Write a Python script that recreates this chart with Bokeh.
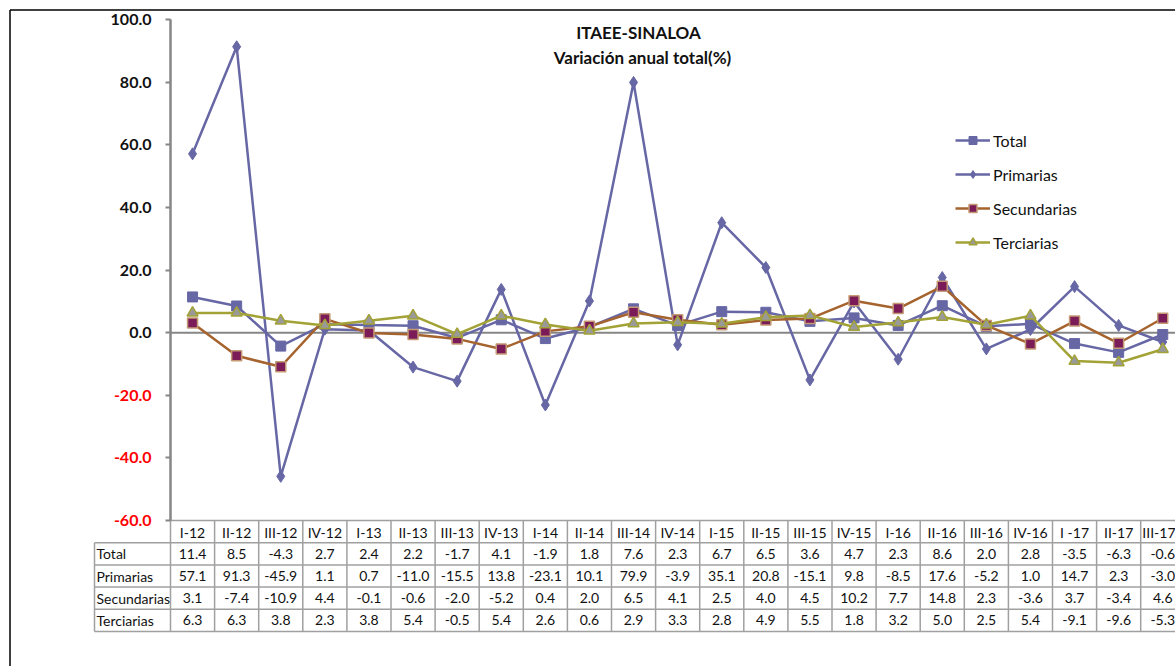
from bokeh.plotting import figure
from bokeh.models import (Range1d, LinearAxis, FixedTicker, PrintfTickFormatter,
                          Legend, LegendItem, ColumnDataSource, Label)
from bokeh.core.properties import value
from bokeh.embed import file_html
from bokeh.resources import INLINE

# ---------------- data ----------------
categories = ["I-12", "II-12", "III-12", "IV-12", "I-13", "II-13", "III-13", "IV-13",
              "I-14", "II-14", "III-14", "IV-14", "I-15", "II-15", "III-15", "IV-15",
              "I-16", "II-16", "III-16", "IV-16", "I -17", "II-17", "III-17"]
total = [11.4, 8.5, -4.3, 2.7, 2.4, 2.2, -1.7, 4.1, -1.9, 1.8, 7.6, 2.3, 6.7, 6.5,
         3.6, 4.7, 2.3, 8.6, 2.0, 2.8, -3.5, -6.3, -0.6]
primarias = [57.1, 91.3, -45.9, 1.1, 0.7, -11.0, -15.5, 13.8, -23.1, 10.1, 79.9, -3.9,
             35.1, 20.8, -15.1, 9.8, -8.5, 17.6, -5.2, 1.0, 14.7, 2.3, -3.0]
secundarias = [3.1, -7.4, -10.9, 4.4, -0.1, -0.6, -2.0, -5.2, 0.4, 2.0, 6.5, 4.1, 2.5,
               4.0, 4.5, 10.2, 7.7, 14.8, 2.3, -3.6, 3.7, -3.4, 4.6]
terciarias = [6.3, 6.3, 3.8, 2.3, 3.8, 5.4, -0.5, 5.4, 2.6, 0.6, 2.9, 3.3, 2.8, 4.9,
              5.5, 1.8, 3.2, 5.0, 2.5, 5.4, -9.1, -9.6, -5.3]
series_names = ["Total", "Primarias", "Secundarias", "Terciarias"]
y_ticks_black = [0, 20, 40, 60, 80, 100]
y_ticks_red = [-60, -40, -20]
title_lines = ["ITAEE-SINALOA", "Variación anual total(%)"]

# ---------------- geometry ----------------
W, H = 1175, 666
X0_PX = 170.0            # canvas x of first category boundary
PX_PER_CAT = 44.1
Y100_PX = 19.0           # canvas y of value 100
PX_PER_UNIT = 501.0 / 160.0

def dx(px):
    return px / PX_PER_CAT

def dy(px):
    return px / PX_PER_UNIT

x_start = -dx(X0_PX)
x_end = dx(W - X0_PX)
y_end = 100 + dy(Y100_PX)
y_start = 100 - dy(H - Y100_PX)

FONT = "Lato"
C_TOT = "#6767A5"
C_SEC = "#A5632E"
C_TER = "#A2A236"
C_AX = "#868686"
C_GRID = "#A0A0A0"
C_TXT = "#111111"

p = figure(width=W, height=H, x_range=Range1d(x_start, x_end),
           y_range=Range1d(y_start, y_end), output_backend="svg",
           toolbar_location=None, x_axis_location=None, y_axis_location=None,
           min_border=0, outline_line_color=None)
p.min_border_left = p.min_border_right = p.min_border_top = p.min_border_bottom = 0
p.grid.visible = False

n = len(categories)
xs = [i + 0.5 for i in range(n)]

# outer chart border (left and top)
bx = x_start + dx(9.5)
by = y_end - dy(9.5)
p.segment(x0=[bx, bx], y0=[by, by], x1=[bx, x_end], y1=[y_start, by],
          line_color="black", line_width=1.5)

# y axes (black positive labels, red negative labels)
for ticks, col in [(y_ticks_black, C_TXT), (y_ticks_red, "#FF0000")]:
    ax = LinearAxis(fixed_location=0, bounds=(-60, 100),
                    ticker=FixedTicker(ticks=ticks),
                    formatter=PrintfTickFormatter(format="%.1f"),
                    axis_line_color=C_AX, axis_line_width=2,
                    major_tick_line_color=C_AX, major_tick_line_width=2,
                    major_tick_in=0, major_tick_out=5,
                    minor_tick_line_color=None,
                    major_label_text_font=FONT, major_label_text_font_style="bold",
                    major_label_text_font_size="16px",
                    major_label_text_color=col, major_label_standoff=14)
    p.add_layout(ax, "left")

# zero line
p.segment(x0=[0], y0=[0], x1=[x_end], y1=[0], line_color=C_AX, line_width=2)

# category axis at -60 (header row of the table)
cat_ax = LinearAxis(fixed_location=-60, bounds=(0, x_end),
                    ticker=FixedTicker(ticks=xs),
                    major_label_overrides={x: c for x, c in zip(xs, categories)},
                    axis_line_color=C_GRID, axis_line_width=1.5,
                    major_tick_line_color=None, minor_tick_line_color=None,
                    major_label_text_font=FONT, major_label_text_font_size="14px",
                    major_label_text_color=C_TXT, major_label_standoff=-3)
p.add_layout(cat_ax, "below")

# data table
ROW_PX = 22.2
row_edges = [-60 - dy(k * ROW_PX) for k in range(6)]
lab_left = -dx(76)
hx0, hy0, hx1, hy1 = [], [], [], []
for k in range(1, 6):
    hx0.append(lab_left); hx1.append(x_end)
    hy0.append(row_edges[k]); hy1.append(row_edges[k])
vx0, vy0, vx1, vy1 = [lab_left], [row_edges[1]], [lab_left], [row_edges[5]]
for i in range(n + 1):
    vx0.append(i); vx1.append(i); vy0.append(row_edges[0]); vy1.append(row_edges[5])
p.segment(x0=hx0, y0=hy0, x1=hx1, y1=hy1, line_color=C_GRID, line_width=1.5)
p.segment(x0=vx0, y0=vy0, x1=vx1, y1=vy1, line_color=C_GRID, line_width=1.5)

all_series = [total, primarias, secundarias, terciarias]
tx, ty, tt = [], [], []
for r, vals in enumerate(all_series):
    yc = (row_edges[r + 1] + row_edges[r + 2]) / 2
    for i, v in enumerate(vals):
        tx.append(xs[i]); ty.append(yc); tt.append("%.1f" % v)
p.text(x="x", y="y", text="t", source=ColumnDataSource(dict(x=tx, y=ty, t=tt)),
       text_font=value(FONT), text_font_size="14px", text_align="center",
       text_baseline="middle", text_color=C_TXT)
ly = [(row_edges[r + 1] + row_edges[r + 2]) / 2 for r in range(4)]
p.text(x=[lab_left + dx(2)] * 4, y=ly, text=series_names,
       text_font=value(FONT), text_font_size="14px", text_align="left",
       text_baseline="middle", text_color=C_TXT)

# series
l1 = p.line(xs, total, line_color=C_TOT, line_width=2.5)
s1 = p.scatter(xs, total, marker="square", size=10, fill_color=C_TOT, line_color=C_TOT)
l2 = p.line(xs, primarias, line_color=C_TOT, line_width=2.5)
s2 = p.scatter(xs, primarias, marker="diamond", size=12, fill_color=C_TOT, line_color=C_TOT)
l3 = p.line(xs, secundarias, line_color=C_SEC, line_width=2.5)
s3 = p.scatter(xs, secundarias, marker="square", size=10, fill_color="#7B1C58",
               line_color="#C49A74", line_width=1.5)
l4 = p.line(xs, terciarias, line_color=C_TER, line_width=2.5)
s4 = p.scatter(xs, terciarias, marker="triangle", size=11, fill_color="#999999",
               line_color=C_TER, line_width=1.5)

legend = Legend(items=[LegendItem(label=series_names[0], renderers=[l1, s1]),
                       LegendItem(label=series_names[1], renderers=[l2, s2]),
                       LegendItem(label=series_names[2], renderers=[l3, s3]),
                       LegendItem(label=series_names[3], renderers=[l4, s4])],
                location=(955, H - 252), orientation="vertical",
                border_line_color=None, background_fill_alpha=0,
                glyph_width=35, glyph_height=20, label_height=20, spacing=14,
                padding=0, margin=0, label_standoff=3,
                label_text_font=FONT, label_text_font_size="16px",
                label_text_color=C_TXT)
p.add_layout(legend)

# title
p.add_layout(Label(x=dx(468), y=100 - dy(13), text=title_lines[0], text_align="center",
                   text_baseline="middle", text_font=FONT, text_font_style="bold",
                   text_font_size="17px", text_color=C_TXT))
p.add_layout(Label(x=dx(472), y=100 - dy(38), text=title_lines[1], text_align="center",
                   text_baseline="middle", text_font=FONT, text_font_style="bold",
                   text_font_size="17px", text_color=C_TXT))

open("out.html", "w").write(file_html(p, INLINE))
